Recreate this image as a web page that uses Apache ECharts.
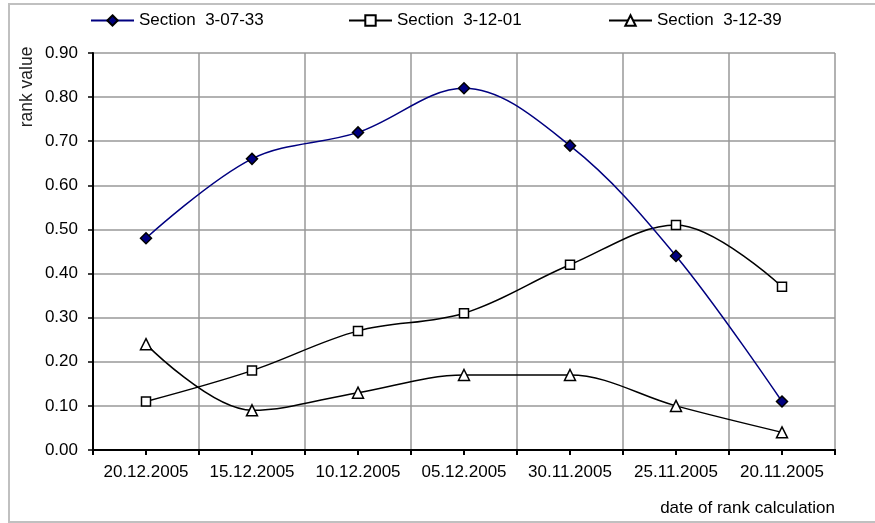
<!DOCTYPE html>
<html>
<head>
<meta charset="utf-8">
<script src="https://cdn.jsdelivr.net/npm/echarts@6/dist/echarts.min.js"></script>
<style>
  html, body { margin: 0; padding: 0; background: #fff; }
  #chart { width: 875px; height: 523px; }
</style>
</head>
<body>
<div id="chart"></div>
<script>
// Dates of rank calculation (categories along the x axis)
const dates = ['20.12.2005', '15.12.2005', '10.12.2005', '05.12.2005', '30.11.2005', '25.11.2005', '20.11.2005'];

// Rank values per section
const section30733 = [0.48, 0.66, 0.72, 0.82, 0.69, 0.44, 0.11];
const section31201 = [0.11, 0.18, 0.27, 0.31, 0.42, 0.51, 0.37];
const section31239 = [0.24, 0.09, 0.13, 0.17, 0.17, 0.10, 0.04];

const seriesNames = ['Section  3-07-33', 'Section  3-12-01', 'Section  3-12-39'];

// Half-band slots used only for the extra tick marks on the x axis
const halfTicks = [];
dates.forEach(d => { halfTicks.push(d + '/1'); halfTicks.push(d + '/2'); });

const FONT = '"Liberation Sans", Arial, sans-serif';
const chart = echarts.init(document.getElementById('chart'), null, { renderer: 'canvas' });

function legendAt(name, left) {
  return {
    data: [name],
    left: left,
    top: 12,
    itemWidth: 43,
    itemHeight: 13,
    itemGap: 0,
    padding: 0,
    textStyle: { fontFamily: FONT, fontSize: 17, color: '#000' },
    selectedMode: false
  };
}

chart.setOption({
  animation: false,
  legend: [
    legendAt(seriesNames[0], 90),
    legendAt(seriesNames[1], 348),
    legendAt(seriesNames[2], 608)
  ],
  grid: { left: 93, right: 40, top: 53, bottom: 73 },
  xAxis: [
    {
      type: 'category',
      data: dates,
      position: 'bottom',
      axisLine: { lineStyle: { color: '#000', width: 2 } },
      axisTick: { show: true, interval: 0, length: 5, lineStyle: { color: '#000', width: 2 } },
      axisLabel: { interval: 0, hideOverlap: false, fontFamily: FONT, fontSize: 17, color: '#000', margin: 14 },
      splitLine: { show: true, interval: 0, lineStyle: { color: '#999', width: 1.5 } }
    },
    {
      type: 'category',
      data: halfTicks,
      position: 'bottom',
      offset: 0,
      axisLine: { show: true, lineStyle: { color: '#000', width: 2 } },
      axisTick: { show: true, interval: 0, length: 5, lineStyle: { color: '#000', width: 2 } },
      axisLabel: { show: false },
      splitLine: { show: false }
    }
  ],
  yAxis: {
    type: 'value',
    min: 0,
    max: 0.9,
    interval: 0.1,
    axisLine: { show: true, lineStyle: { color: '#000', width: 2 } },
    axisTick: { show: true, length: 5, lineStyle: { color: '#000', width: 1.5 } },
    axisLabel: {
      fontFamily: FONT, fontSize: 17, color: '#000', margin: 15,
      formatter: v => v.toFixed(2)
    },
    splitLine: { show: true, lineStyle: { color: '#999', width: 1.5 } }
  },
  graphic: [
    {
      type: 'rect',
      shape: { x: 9, y: 4, width: 900, height: 518 },
      style: { fill: 'none', stroke: '#c0c0c0', lineWidth: 2 },
      silent: true
    },
    {
      type: 'text',
      x: 27, y: 87,
      rotation: Math.PI / 2,
      style: {
        text: 'rank value', fontFamily: FONT, fontSize: 17.5, fill: '#222',
        align: 'center', verticalAlign: 'middle'
      }
    },
    {
      type: 'text',
      x: 835, y: 508,
      style: {
        text: 'date of rank calculation', fontFamily: FONT, fontSize: 17, fill: '#000',
        align: 'right', verticalAlign: 'middle'
      }
    }
  ],
  series: [
    {
      name: seriesNames[0],
      type: 'line',
      data: section30733,
      smooth: 0.35,
      symbol: 'diamond',
      symbolSize: 11,
      showAllSymbol: true,
      lineStyle: { color: '#000080', width: 1.5 },
      itemStyle: { color: '#000080', borderColor: '#000', borderWidth: 1.5 },
      z: 4
    },
    {
      name: seriesNames[1],
      type: 'line',
      data: section31201,
      smooth: 0.35,
      symbol: 'rect',
      symbolSize: 9,
      showAllSymbol: true,
      lineStyle: { color: '#000', width: 1.5 },
      itemStyle: { color: '#fff', borderColor: '#000', borderWidth: 1.5 },
      z: 3
    },
    {
      name: seriesNames[2],
      type: 'line',
      data: section31239,
      smooth: 0.35,
      symbol: 'triangle',
      symbolSize: 11,
      showAllSymbol: true,
      lineStyle: { color: '#000', width: 1.5 },
      itemStyle: { color: '#fff', borderColor: '#000', borderWidth: 1.5 },
      z: 3
    }
  ]
});
</script>
</body>
</html>
